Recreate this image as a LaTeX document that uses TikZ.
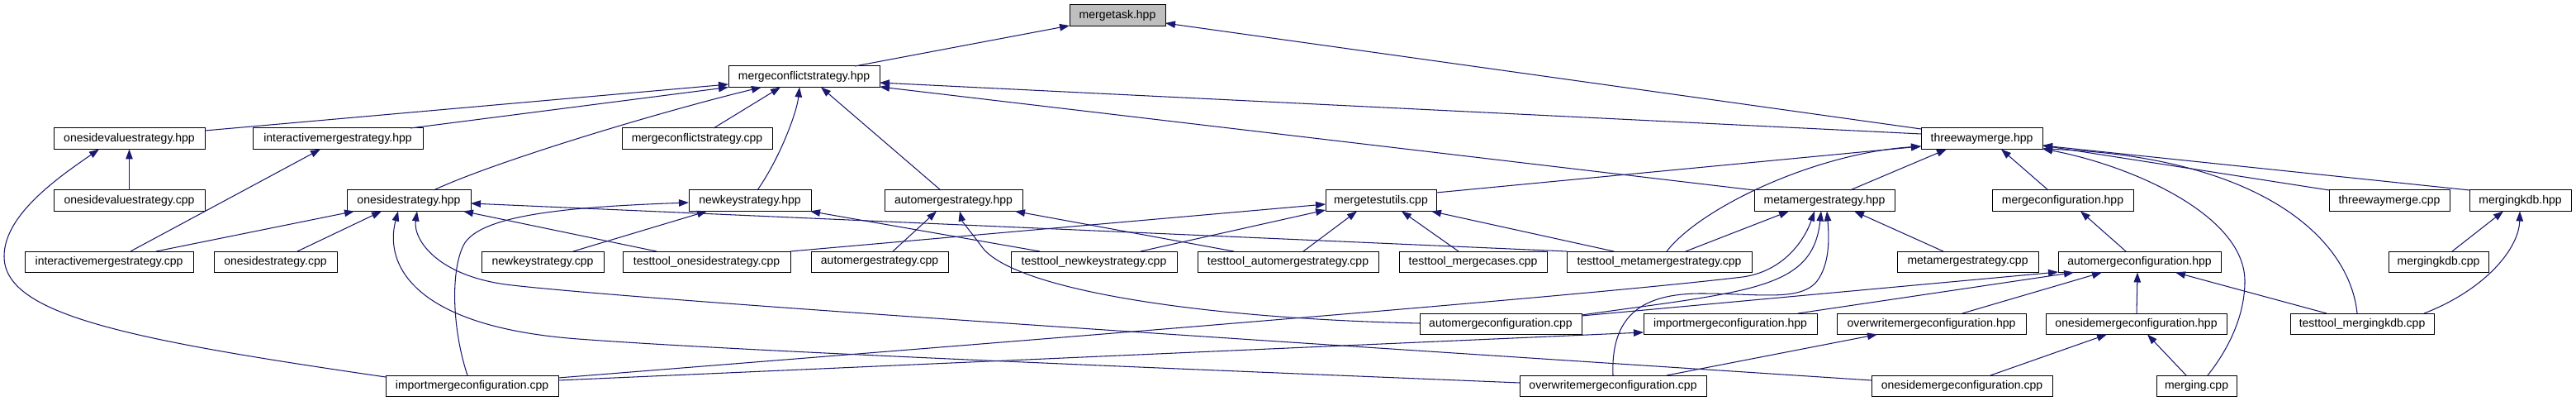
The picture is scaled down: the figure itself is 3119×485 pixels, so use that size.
\documentclass[tikz,border=0pt]{standalone}
\usepackage{fontspec}
\setmainfont{Liberation Sans}
\usetikzlibrary{arrows.meta,calc}
\definecolor{edgecol}{HTML}{191970}
\definecolor{rootfill}{HTML}{BFBFBF}
\tikzset{
  box/.style={draw=black, line width=1bp, fill=white, inner sep=0pt, outer sep=0pt,
    minimum height=25.5bp, anchor=north west, font=\fontsize{14bp}{16bp}\selectfont},
  rootbox/.style={box, fill=rootfill},
  e/.style={draw=edgecol, line width=1.05bp, -{Triangle[length=12bp,width=8.5bp]}}
}
\begin{document}
\begin{tikzpicture}[x=1bp,y=-1bp]
\useasboundingbox (0,0) rectangle (3119,485);
\fill[white] (0,0) rectangle (3119,485);
% row 0
\node[rootbox, minimum width=116bp] (mergetask) at (1295,6) {mergetask.hpp};
% row 1
\node[box, minimum width=183bp] (mcshpp) at (882,80) {mergeconflictstrategy.hpp};
% row 2
\node[box, minimum width=147bp] (twhpp) at (2326,155) {threewaymerge.hpp};
\node[box, minimum width=183bp] (osvhpp) at (65,155) {onesidevaluestrategy.hpp};
\node[box, minimum width=206bp] (imshpp) at (306,155) {interactivemergestrategy.hpp};
\node[box, minimum width=182bp] (mcscpp) at (753,155) {mergeconflictstrategy.cpp};
% row 3
\node[box, minimum width=183bp] (osvcpp) at (65,230) {onesidevaluestrategy.cpp};
\node[box, minimum width=150bp] (oshpp) at (420,230) {onesidestrategy.hpp};
\node[box, minimum width=148bp] (nkhpp) at (834,230) {newkeystrategy.hpp};
\node[box, minimum width=167bp] (amshpp) at (1071,230) {automergestrategy.hpp};
\node[box, minimum width=134bp] (mtucpp) at (1605,230) {mergetestutils.cpp};
\node[box, minimum width=170bp] (mmshpp) at (2124,230) {metamergestrategy.hpp};
\node[box, minimum width=171bp] (mchpp) at (2412,230) {mergeconfiguration.hpp};
\node[box, minimum width=146bp] (twcpp) at (2820,230) {threewaymerge.cpp};
\node[box, minimum width=123bp] (mkhpp) at (2990,230) {mergingkdb.hpp};
% row 4
\node[box, minimum width=204bp] (imscpp) at (30,304) {interactivemergestrategy.cpp};
\node[box, minimum width=149bp] (oscpp) at (259,304) {onesidestrategy.cpp};
\node[box, minimum width=148bp] (nkcpp) at (583,304) {newkeystrategy.cpp};
\node[box, minimum width=203bp] (ttos) at (754,304) {testtool\_onesidestrategy.cpp};
\node[box, minimum width=166bp] (amscpp) at (982,304) {automergestrategy.cpp};
\node[box, minimum width=201bp] (ttnk) at (1224,304) {testtool\_newkeystrategy.cpp};
\node[box, minimum width=219bp] (ttams) at (1450,304) {testtool\_automergestrategy.cpp};
\node[box, minimum width=179bp] (ttmc) at (1694,304) {testtool\_mergecases.cpp};
\node[box, minimum width=224bp] (ttmms) at (1897,304) {testtool\_metamergestrategy.cpp};
\node[box, minimum width=171bp] (mmscpp) at (2297,304) {metamergestrategy.cpp};
\node[box, minimum width=197bp] (amchpp) at (2492,304) {automergeconfiguration.hpp};
\node[box, minimum width=121bp] (mkcpp) at (2892,304) {mergingkdb.cpp};
% row 5
\node[box, minimum width=196bp] (amccpp) at (1719,379) {automergeconfiguration.cpp};
\node[box, minimum width=210bp] (imchpp) at (1990,379) {importmergeconfiguration.hpp};
\node[box, minimum width=229bp] (omchpp) at (2224,379) {overwritemergeconfiguration.hpp};
\node[box, minimum width=219bp] (osmchpp) at (2477,379) {onesidemergeconfiguration.hpp};
\node[box, minimum width=174bp] (ttmk) at (2773,379) {testtool\_mergingkdb.cpp};
% row 6
\node[box, minimum width=209bp] (imccpp) at (467,454) {importmergeconfiguration.cpp};
\node[box, minimum width=226bp] (omccpp) at (1840,454) {overwritemergeconfiguration.cpp};
\node[box, minimum width=219bp] (osmccpp) at (2266,454) {onesidemergeconfiguration.cpp};
\node[box, minimum width=97bp] (mergingcpp) at (2611,454) {merging.cpp};

% edges
\draw[e] ($(mcshpp.north west)+(153,0)$) -- ($(mergetask.north west)+(0,25)$);
\draw[e] ($(twhpp.north west)+(0,1)$) -- ($(mergetask.north west)+(116,22)$);
\draw[e] ($(osvhpp.north west)+(183,3)$) -- ($(mcshpp.north west)+(0,22)$);
\draw[e] ($(imshpp.north west)+(191,0)$) -- ($(mcshpp.north west)+(0,25.5)$);
\draw[e] ($(oshpp.north west)+(105,0)$) .. controls (600,195) and (800,135) .. ($(mcshpp.north west)+(40,25.5)$);
\draw[e] ($(mcscpp.north west)+(111,0)$) -- ($(mcshpp.north west)+(63,25.5)$);
\draw[e] ($(nkhpp.north west)+(83,0)$) .. controls (945,190) and (965,135) .. ($(mcshpp.north west)+(86,25.5)$);
\draw[e] ($(amshpp.north west)+(68,0)$) -- ($(mcshpp.north west)+(112,25.5)$);
\draw[e] ($(twhpp.north west)+(0,7)$) -- ($(mcshpp.north west)+(183,20)$);
\draw[e] ($(mmshpp.north west)+(0,0)$) -- ($(mcshpp.north west)+(183,25)$);
\draw[e] ($(mtucpp.north west)+(134,3)$) -- ($(twhpp.north west)+(0,22)$);
\draw[e] ($(ttmms.north west)+(121,0)$) .. controls (2060,250) and (2200,185) .. ($(twhpp.north west)+(0,22)$);
\draw[e] ($(mmshpp.north west)+(116,0)$) -- ($(twhpp.north west)+(31,25.5)$);
\draw[e] ($(mchpp.north west)+(68,0)$) -- ($(twhpp.north west)+(97,25.5)$);
\draw[e] ($(twcpp.north west)+(0,0)$) -- ($(twhpp.north west)+(147,21)$);
\draw[e] ($(mkhpp.north west)+(0,0)$) -- ($(twhpp.north west)+(147,21)$);
\draw[e] ($(mergingcpp.north west)+(62,0)$) .. controls (2700,420) and (2718,380) .. (2718,340) .. controls (2718,260) and (2580,200) .. ($(twhpp.north west)+(147,25)$);
\draw[e] ($(ttmk.north west)+(81,0)$) .. controls (2845,290) and (2740,190) .. ($(twhpp.north west)+(147,25)$);
\draw[e] ($(osvcpp.north west)+(91.5,0)$) -- ($(osvhpp.north west)+(91.5,25.5)$);
\draw[e] ($(imccpp.north west)+(0,2)$) .. controls (150,410) and (5,380) .. (5,310) .. controls (5,260) and (70,215) .. ($(osvhpp.north west)+(55,25.5)$);
\draw[e] ($(imscpp.north west)+(128,0)$) -- ($(imshpp.north west)+(82,25.5)$);
\draw[e] ($(imscpp.north west)+(159,0)$) -- ($(oshpp.north west)+(9,25.5)$);
\draw[e] ($(oscpp.north west)+(101,0)$) -- ($(oshpp.north west)+(42,25.5)$);
\draw[e] ($(omccpp.north west)+(0,9)$) .. controls (1400,445) and (900,425) .. (700,410) .. controls (500,395) and (465,320) .. ($(oshpp.north west)+(62,25.5)$);
\draw[e] ($(osmccpp.north west)+(0,6)$) .. controls (1500,410) and (800,365) .. (620,345) .. controls (530,335) and (500,290) .. ($(oshpp.north west)+(85,25.5)$);
\draw[e] ($(ttos.north west)+(41,0)$) -- ($(oshpp.north west)+(141,25.5)$);
\draw[e] ($(ttmms.north west)+(0,0)$) -- ($(oshpp.north west)+(150,16)$);
\draw[e] ($(imccpp.north west)+(99,0)$) .. controls (548,400) and (545,330) .. (561,297) .. controls (580,258) and (700,250) .. ($(nkhpp.north west)+(0,15)$);
\draw[e] ($(nkcpp.north west)+(111,0)$) -- ($(nkhpp.north west)+(22,25.5)$);
\draw[e] ($(ttnk.north west)+(35,0)$) -- ($(nkhpp.north west)+(147,25.5)$);
\draw[e] ($(amscpp.north west)+(99,0)$) -- ($(amshpp.north west)+(63,25.5)$);
\draw[e] ($(amccpp.north west)+(0,12)$) .. controls (1450,385) and (1230,350) .. (1190,300) .. controls (1175,280) and (1165,268) .. ($(amshpp.north west)+(91,25.5)$);
\draw[e] ($(ttams.north west)+(44,0)$) -- ($(amshpp.north west)+(158,25.5)$);
\draw[e] ($(ttos.north west)+(203,0)$) -- ($(mtucpp.north west)+(0,17)$);
\draw[e] ($(ttnk.north west)+(157,0)$) -- ($(mtucpp.north west)+(0,24)$);
\draw[e] ($(ttams.north west)+(128,0)$) -- ($(mtucpp.north west)+(38,25.5)$);
\draw[e] ($(ttmc.north west)+(72,0)$) -- ($(mtucpp.north west)+(92,25.5)$);
\draw[e] ($(ttmms.north west)+(57,0)$) -- ($(mtucpp.north west)+(128,25.5)$);
\draw[e] ($(ttmms.north west)+(144,0)$) -- ($(mmshpp.north west)+(42,25.5)$);
\draw[e] ($(imccpp.north west)+(209,3)$) .. controls (1200,415) and (1900,360) .. (2110,335) .. controls (2160,328) and (2185,290) .. ($(mmshpp.north west)+(73,25.5)$);
\draw[e] ($(amccpp.north west)+(196,2)$) .. controls (2120,352) and (2195,350) .. ($(mmshpp.north west)+(81,25.5)$);
\draw[e] ($(omccpp.north west)+(113,0)$) .. controls (1950,380) and (1990,355) .. (2060,355) .. controls (2130,355) and (2180,365) .. (2200,340) .. controls (2215,320) and (2215,290) .. ($(mmshpp.north west)+(88,25.5)$);
\draw[e] ($(mmscpp.north west)+(56,0)$) -- ($(mmshpp.north west)+(121,25.5)$);
\draw[e] ($(amchpp.north west)+(82,0)$) -- ($(mchpp.north west)+(107,25.5)$);
\draw[e] ($(amccpp.north west)+(196,3)$) -- ($(amchpp.north west)+(0,25)$);
\draw[e] ($(imchpp.north west)+(187,0)$) -- ($(amchpp.north west)+(19,25.5)$);
\draw[e] ($(omchpp.north west)+(152,0)$) -- ($(amchpp.north west)+(53,25.5)$);
\draw[e] ($(osmchpp.north west)+(110,0)$) -- ($(amchpp.north west)+(96,25.5)$);
\draw[e] ($(ttmk.north west)+(44,0)$) -- ($(amchpp.north west)+(142,25.5)$);
\draw[e] ($(osmccpp.north west)+(144,0)$) -- ($(osmchpp.north west)+(74,25.5)$);
\draw[e] ($(mergingcpp.north west)+(36,0)$) -- ($(osmchpp.north west)+(123,25.5)$);
\draw[e] ($(imccpp.north west)+(209,6)$) -- ($(imchpp.north west)+(0,23)$);
\draw[e] ($(omccpp.north west)+(178,0)$) -- ($(omchpp.north west)+(49,25.5)$);
\draw[e] ($(mkcpp.north west)+(77,0)$) -- ($(mkhpp.north west)+(41,25.5)$);
\draw[e] ($(ttmk.north west)+(162,0)$) .. controls (3010,350) and (3050,300) .. ($(mkhpp.north west)+(61,25.5)$);
\end{tikzpicture}
\end{document}
